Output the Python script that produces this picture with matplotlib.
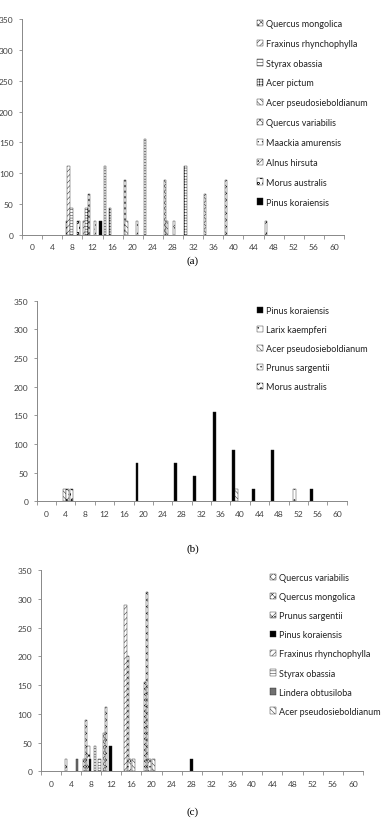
import numpy as np
import matplotlib
matplotlib.use("Agg")
import matplotlib.pyplot as plt

plt.rcParams['font.family'] = ['Lato', 'DejaVu Sans']
plt.rcParams['hatch.linewidth'] = 0.35

# ---- data: (x position, density) per species ----
a_species = ['Quercus mongolica', 'Fraxinus rhynchophylla', 'Styrax obassia', 'Acer pictum',
             'Acer pseudosieboldianum', 'Quercus variabilis', 'Maackia amurensis',
             'Alnus hirsuta', 'Morus australis', 'Pinus koraiensis']
a_x = [[6.9, 11.3, 18.5, 26.4], [7.2, 10.4], [7.8, 14.5, 22.4], [10.8, 15.5, 30.5],
       [18.8, 26.8], [34.4, 38.5], [12.5, 20.9], [28.2, 46.5], [9.2], [13.6]]
a_y = [[22.2, 66.7, 88.9, 88.9], [111.1, 22.2], [44.4, 111.1, 155.6], [44.4, 44.4, 111.1],
       [22.2, 22.2], [66.7, 88.9], [22.2, 22.2], [22.2, 22.2], [22.2], [22.2]]

b_species = ['Pinus koraiensis', 'Larix kaempferi', 'Acer pseudosieboldianum',
             'Prunus sargentii', 'Morus australis']
b_x = [[18.7, 26.7, 30.6, 34.7, 38.7, 42.7, 46.7, 54.7], [51.3], [39.3, 3.8], [4.45], [5.1]]
b_y = [[66.7, 66.7, 44.4, 155.6, 88.9, 22.2, 88.9, 22.2], [22.2], [22.2, 22.2], [22.2], [22.2]]

c_species = ['Quercus variabilis', 'Quercus mongolica', 'Prunus sargentii', 'Pinus koraiensis',
             'Fraxinus rhynchophylla', 'Styrax obassia', 'Lindera obtusiloba',
             'Acer pseudosieboldianum']
c_x = [[7.0, 11.0, 19.1], [6.6, 10.6, 15.2, 18.7], [3.0, 7.45, 15.6, 19.6], [7.8, 11.9, 27.9],
       [14.8], [8.8, 9.7], [5.2], [16.4, 20.4]]
c_y = [[88.9, 111.1, 311.1], [22.2, 66.7, 200.0, 155.6], [22.2, 44.4, 22.2, 22.2],
       [22.2, 44.4, 22.2], [288.9], [44.4, 22.2], [22.2], [22.2, 22.2]]

x_labels = list(range(0, 61, 4))
y_ticks = list(range(0, 351, 50))

# fill styles per species (face colour, hatch)
styles = {
    'Quercus mongolica': ('white', 'xxxxxx'),
    'Fraxinus rhynchophylla': ('white', '//////'),
    'Styrax obassia': ('white', '------'),
    'Acer pictum': ('white', '++++++'),
    'Acer pseudosieboldianum': ('white', '\\\\\\\\\\\\'),
    'Quercus variabilis': ('white', 'xxxxx'),
    'Maackia amurensis': ('white', '....'),
    'Alnus hirsuta': ('white', '///...'),
    'Morus australis': ('white', 'ooo'),
    'Pinus koraiensis': ('black', None),
    'Larix kaempferi': ('white', '...'),
    'Prunus sargentii': ('white', 'xxx...'),
    'Lindera obtusiloba': ('#707070', None),
}

W, H = 386, 828
fig = plt.figure(figsize=(W / 100, H / 100), dpi=100)


def panel(rect, species, xs, ys, width, leg_xy, spacing, label, label_y):
    l, t, r, b = rect
    ax = fig.add_axes([l / W, 1 - b / H, (r - l) / W, (b - t) / H])
    for name, x, y in zip(species, xs, ys):
        fc, hatch = styles[name]
        ax.bar(x, y, width=width, color=fc, hatch=hatch, edgecolor='#222222',
               linewidth=0.3, label=name)
    ax.set_xlim(-2, 62)
    ax.set_ylim(0, 350)
    ax.set_xticks(x_labels)
    ax.set_xticks(np.arange(-2, 63, 4), minor=True)
    ax.set_yticks(y_ticks)
    ax.tick_params(axis='x', which='major', length=0, labelsize=6, colors='#404040', pad=6)
    ax.tick_params(axis='x', which='minor', length=3, color='#888888', width=0.6)
    ax.tick_params(axis='y', length=2.5, labelsize=6, colors='#404040', width=0.6)
    ax.tick_params(axis='y', color='#888888')
    for s in ['top', 'right']:
        ax.spines[s].set_visible(False)
    for s in ['left', 'bottom']:
        ax.spines[s].set_color('#888888')
        ax.spines[s].set_linewidth(0.7)
    fig.legend(*ax.get_legend_handles_labels(), loc='upper left',
               bbox_to_anchor=(leg_xy[0] / W, 1 - leg_xy[1] / H), frameon=False,
               fontsize=6.5, handlelength=0.7, handleheight=0.7, handletextpad=0.25,
               labelspacing=spacing, borderpad=0, borderaxespad=0, labelcolor='#222222')
    fig.text(0.5, 1 - label_y / H, label, ha='center', va='center', fontsize=8,
             family='Liberation Serif')
    return ax


panel((22, 20, 344, 236), a_species, a_x, a_y, 0.5, (257, 20), 1.2, '(a)', 261)
panel((36.7, 301.7, 346.7, 502.3), b_species, b_x, b_y, 0.6, (257, 307), 1.12, '(b)', 549)
panel((40.7, 571, 363, 772.3), c_species, c_x, c_y, 0.5, (270, 574), 1.12, '(c)', 812)

fig.savefig('out.png', dpi=100)
